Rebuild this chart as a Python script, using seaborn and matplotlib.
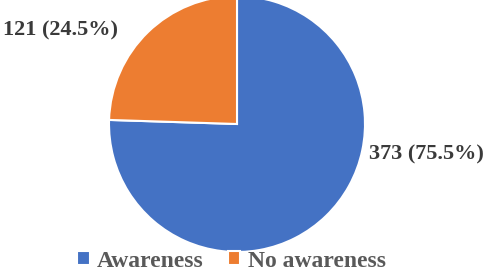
import matplotlib
matplotlib.use("Agg")
import matplotlib.pyplot as plt
import seaborn as sns

categories = ["Awareness", "No awareness"]
counts = [373, 121]
percents = [75.5, 24.5]
colors = ["#4472C4", "#ED7D31"]

sns.set_theme(style="white")
plt.rcParams['font.family'] = ['Liberation Serif', 'DejaVu Serif']

fig = plt.figure(figsize=(4.87, 2.75), dpi=100)
# pie centre about (237, 124) px, radius about 128 px
ax = fig.add_axes([109 / 487, 23 / 275, 256 / 487, 256 / 275])

wedges, _ = ax.pie(counts, colors=colors, startangle=90, counterclock=False,
                   wedgeprops=dict(edgecolor="white", linewidth=1.5))
ax.set_xlim(-1, 1)
ax.set_ylim(-1, 1)
ax.set_aspect("equal")

# labels outside the pie
label_pos = [(1.48, -0.24), (-1.38, 0.73)]
for (x, y), n, p in zip(label_pos, counts, percents):
    ax.text(x, y, f"{n} ({p}%)", ha="center", va="center", fontsize=16,
            fontweight="bold", color="#3a3a3a", clip_on=False)

fig.legend(wedges, categories, loc="lower center", bbox_to_anchor=(0.475, -0.065),
           ncol=2, frameon=False, handlelength=0.55, handleheight=0.55,
           handletextpad=0.3, columnspacing=1.0,
           prop=dict(size=17, weight="bold"), labelcolor="#595959")

fig.savefig("out.png", dpi=100)
